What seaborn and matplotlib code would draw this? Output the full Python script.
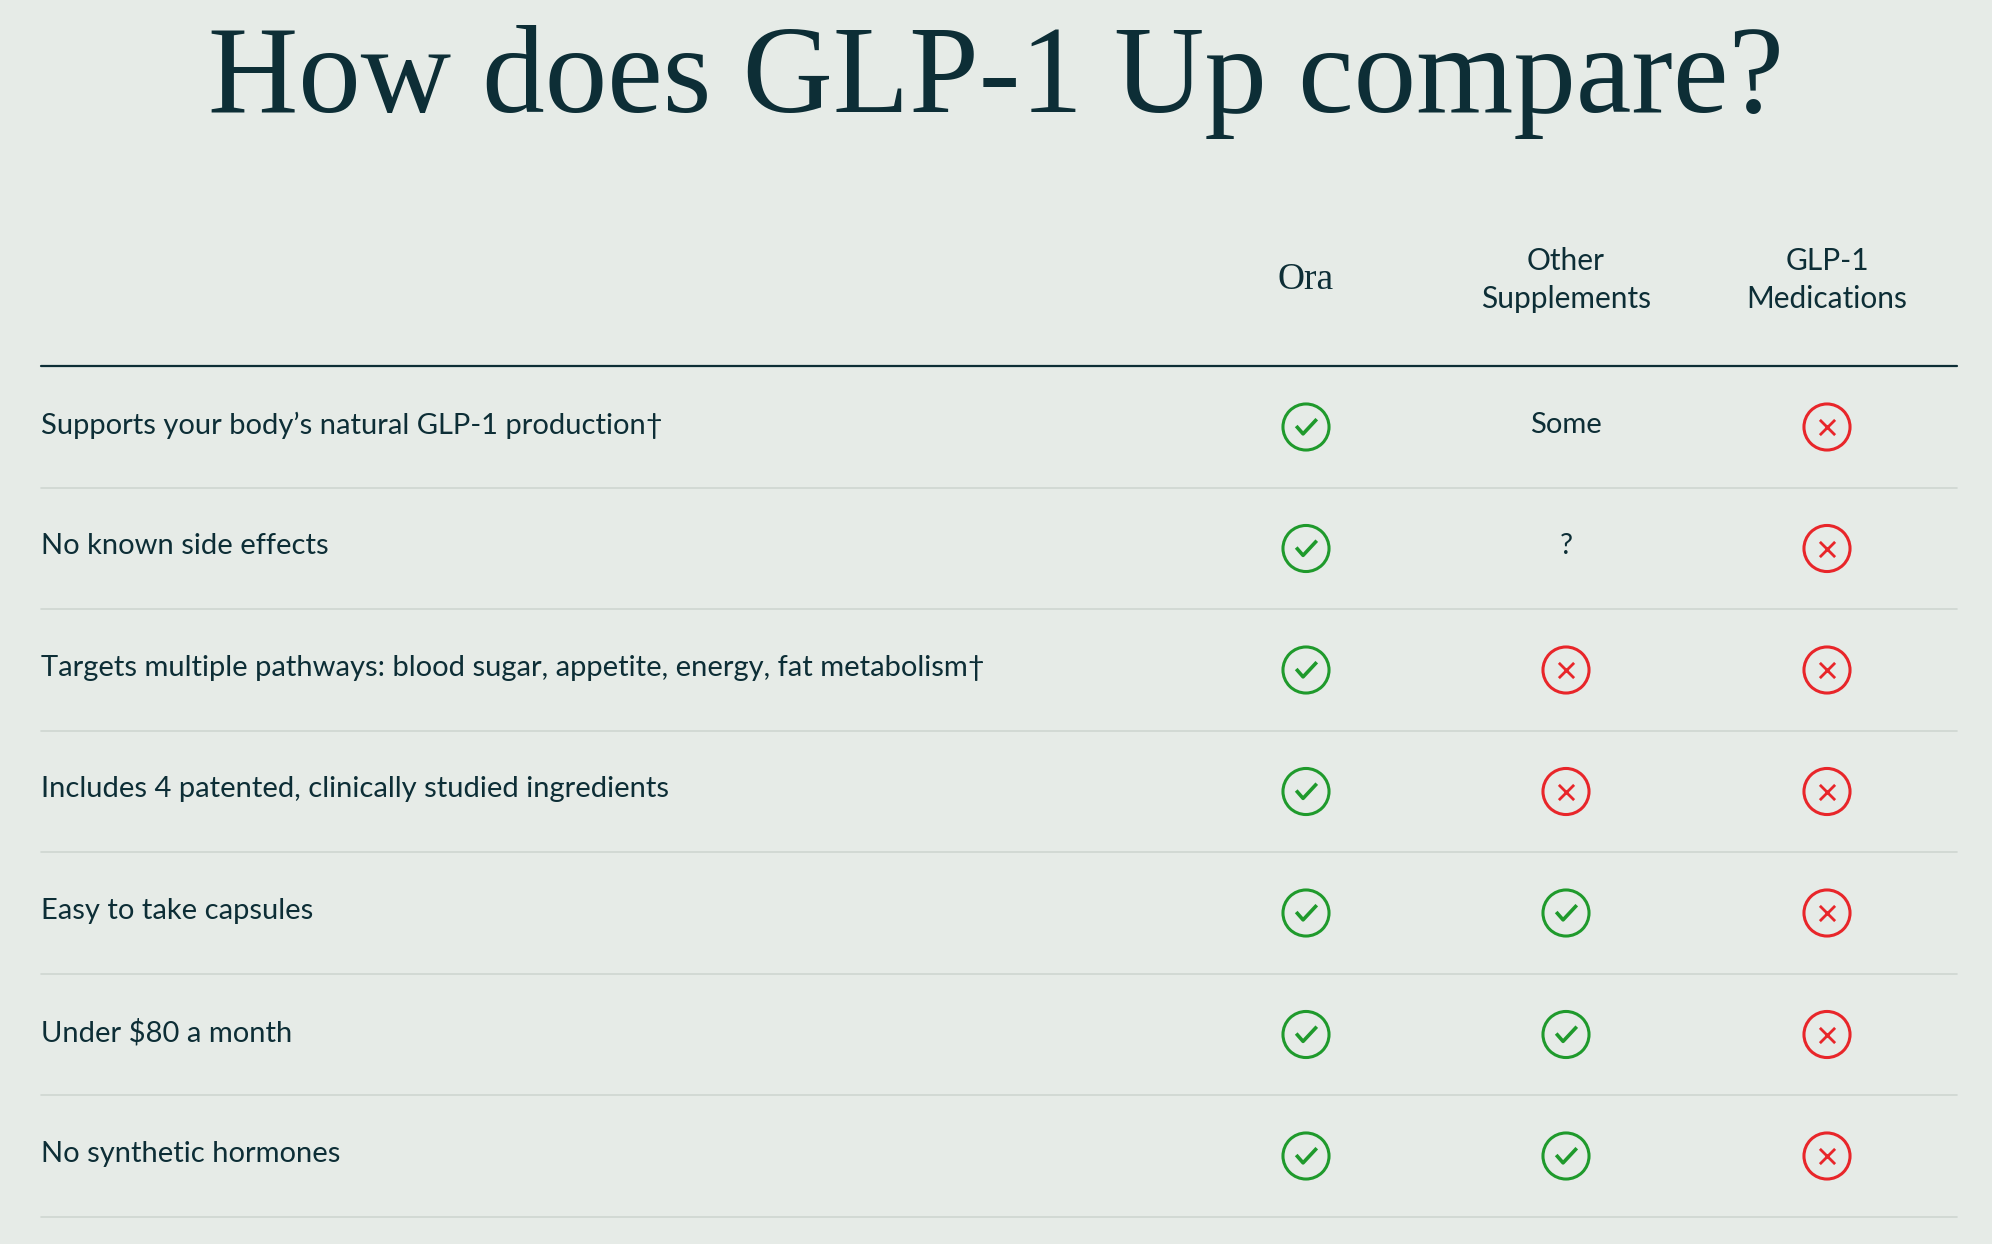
import matplotlib
matplotlib.use("Agg")
import numpy as np
import pandas as pd
import seaborn as sns
from matplotlib import pyplot as plt
from matplotlib.path import Path

features = [
    "Supports your body\u2019s natural GLP-1 production\u2020",
    "No known side effects",
    "Targets multiple pathways: blood sugar, appetite, energy, fat metabolism\u2020",
    "Includes 4 patented, clinically studied ingredients",
    "Easy to take capsules",
    "Under $80 a month",
    "No synthetic hormones",
]
columns = ["Ora", "Other\nSupplements", "GLP-1\nMedications"]
ora = ["yes", "yes", "yes", "yes", "yes", "yes", "yes"]
other_supplements = ["Some", "?", "no", "no", "yes", "yes", "yes"]
glp1_medications = ["no", "no", "no", "no", "no", "no", "no"]

BG = "#e6ebe7"
INK = "#0d2e36"
GREEN = "#1f9a2c"
RED = "#e8262a"

W, H = 1992, 1244
col_x = [1306, 1566, 1827]
row_y0, row_step = 427, 121.5
left, right = 41, 1957

rows = []
for ci, vals in enumerate([ora, other_supplements, glp1_medications]):
    for ri, v in enumerate(vals):
        rows.append({"x": col_x[ci], "y": row_y0 + ri * row_step, "v": v})
df = pd.DataFrame(rows)

sns.set_theme(style="white")
plt.rcParams["font.family"] = ["Lato", "DejaVu Sans"]

fig = plt.figure(figsize=(W / 100, H / 100), dpi=100, facecolor=BG)
ax = fig.add_axes([0, 0, 1, 1], facecolor=BG)
ax.set_xlim(0, W)
ax.set_ylim(H, 0)
ax.axis("off")

ax.text(W / 2, 82, "How does GLP-1 Up compare?", ha="center", va="center",
        fontsize=90, color=INK, family=["Liberation Serif", "DejaVu Serif"])

for x, c in zip(col_x, columns):
    if c == "Ora":
        ax.text(x, 280, c, ha="center", va="center", fontsize=27, color=INK,
                family=["Liberation Serif", "DejaVu Serif"])
    else:
        ax.text(x, 280, c, ha="center", va="center", fontsize=21.5, color=INK,
                linespacing=1.4)

ax.plot([left, right], [366, 366], color=INK, lw=1.6)
for i, f in enumerate(features):
    y = row_y0 + i * row_step
    ax.text(left, y - 2, f, ha="left", va="center", fontsize=21, color=INK)
    ax.plot([left, right], [y + row_step / 2] * 2, color="#cfd6d1", lw=1.2)

check = Path([(-0.5, 0.05), (-0.15, -0.35), (0.55, 0.4)],
             [Path.MOVETO, Path.LINETO, Path.LINETO])

yes = df[df.v == "yes"]
no = df[df.v == "no"]
sns.scatterplot(data=yes, x="x", y="y", ax=ax, s=1100, marker="o",
                facecolor="none", edgecolor=GREEN, linewidth=2.2, legend=False)
sns.scatterplot(data=yes, x="x", y="y", ax=ax, s=240, marker=check,
                facecolor="none", edgecolor=GREEN, linewidth=2.6, legend=False)
sns.scatterplot(data=no, x="x", y="y", ax=ax, s=1100, marker="o",
                facecolor="none", edgecolor=RED, linewidth=2.2, legend=False)
sns.scatterplot(data=no, x="x", y="y", ax=ax, s=120, marker="x",
                color=RED, linewidth=2.0, legend=False)
for _, r in df[~df.v.isin(["yes", "no"])].iterrows():
    ax.text(r.x, r.y - 2, r.v, ha="center", va="center", fontsize=21, color=INK)

ax.set_xlim(0, W)
ax.set_ylim(H, 0)
fig.savefig("out.png", dpi=100, facecolor=BG)
